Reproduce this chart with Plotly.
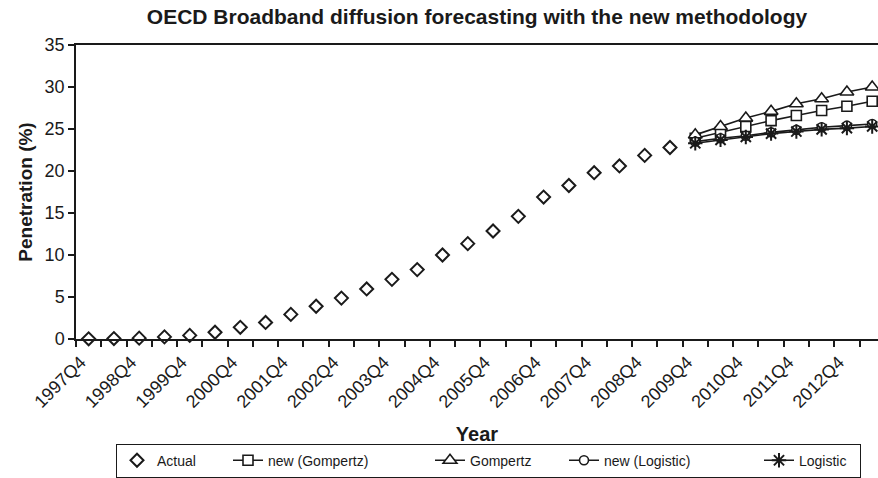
import plotly.graph_objects as go

periods = [
    "1997Q4", "1998Q2", "1998Q4", "1999Q2", "1999Q4", "2000Q2", "2000Q4", "2001Q2",
    "2001Q4", "2002Q2", "2002Q4", "2003Q2", "2003Q4", "2004Q2", "2004Q4", "2005Q2",
    "2005Q4", "2006Q2", "2006Q4", "2007Q2", "2007Q4", "2008Q2", "2008Q4", "2009Q2",
    "2009Q4", "2010Q2", "2010Q4", "2011Q2", "2011Q4", "2012Q2", "2012Q4", "2013Q2",
]
actual = [0.02, 0.05, 0.1, 0.25, 0.43, 0.8, 1.39, 1.97, 2.93, 3.9, 4.87, 5.96,
          7.1, 8.26, 10.0, 11.35, 12.86, 14.6, 16.9, 18.27, 19.8, 20.6, 21.86, 22.8]
forecast_periods = periods[24:]
new_gompertz = [23.9, 24.6, 25.3, 26.0, 26.6, 27.2, 27.7, 28.3]
gompertz = [24.3, 25.3, 26.3, 27.1, 28.0, 28.6, 29.4, 30.0]
new_logistic = [23.5, 23.9, 24.2, 24.6, 24.9, 25.2, 25.4, 25.6]
logistic = [23.3, 23.7, 24.05, 24.45, 24.7, 24.95, 25.1, 25.3]

pos = {p: i for i, p in enumerate(periods)}
x_actual = [pos[p] for p in periods[:len(actual)]]
x_fc = [pos[p] for p in forecast_periods]
tick_idx = [i for i, p in enumerate(periods) if p.endswith("Q4")]
tick_txt = [periods[i] for i in tick_idx]

FONT = "Liberation Sans, Arial, Helvetica, sans-serif"
INK = "#1a1a1a"

fig = go.Figure()
fig.add_trace(go.Scatter(
    x=x_actual, y=actual, mode="markers", name="Actual", legendwidth=66,
    marker=dict(symbol="diamond", size=10, color="white", line=dict(color=INK, width=2)),
    cliponaxis=False))


def fc_trace(vals, name, symbol, size, lw):
    return go.Scatter(
        x=x_fc, y=vals, mode="lines+markers", name=name, legendwidth=lw,
        line=dict(color=INK, width=1.6),
        marker=dict(symbol=symbol, size=size, color="white", line=dict(color=INK, width=1.6)),
        cliponaxis=False)


fig.add_trace(fc_trace(new_gompertz, "new (Gompertz)", "square", 10, 157))
fig.add_trace(fc_trace(gompertz, "Gompertz", "triangle-up", 12, 89))
fig.add_trace(fc_trace(new_logistic, "new (Logistic)", "circle", 9, 150))
fig.add_trace(go.Scatter(
    x=x_fc, y=logistic, mode="lines+markers", name="Logistic", legendwidth=56,
    line=dict(color=INK, width=1.6),
    marker=dict(symbol="asterisk-open", size=12, color=INK, line=dict(color=INK, width=2)),
    cliponaxis=False))

fig.update_layout(
    width=878, height=478,
    margin=dict(l=76, r=0, t=45, b=131),
    paper_bgcolor="white", plot_bgcolor="white",
    font=dict(family=FONT, color=INK),
    title=dict(text="<b>OECD Broadband diffusion forecasting with the new methodology</b>",
               x=0.5, xref="paper", xanchor="center",
               y=1 - 17 / 478, yref="container", yanchor="middle",
               font=dict(size=21, color=INK)),
    showlegend=True,
    legend=dict(orientation="h", x=(116 - 76) / 802, xanchor="left", y=-0.356, yanchor="top",
                bordercolor=INK, borderwidth=1, font=dict(size=14, color=INK),
                itemwidth=30, tracegroupgap=0),
    xaxis=dict(
        range=[-0.5, 31.23], showgrid=False, zeroline=False,
        showline=True, linecolor=INK, linewidth=1.5, mirror=True,
        tickmode="array", tickvals=tick_idx, ticktext=tick_txt, tickangle=-45,
        ticks="", tickfont=dict(size=18, color=INK), ticklabelshift=-8, ticklabelstandoff=4,
        minor=dict(tick0=-0.5, dtick=1, ticks="outside", ticklen=6, tickwidth=1.5, tickcolor=INK),
        title=dict(text="<b>Year</b>", font=dict(size=20, color=INK), standoff=16),
    ),
    yaxis=dict(
        range=[0, 35], dtick=5, showgrid=False, zeroline=False,
        showline=True, linecolor=INK, linewidth=1.5,
        ticks="outside", ticklen=6, tickwidth=1.5, tickcolor=INK,
        tickfont=dict(size=18, color=INK),
        title=dict(text="<b>Penetration (%)</b>", font=dict(size=19, color=INK), standoff=7),
    ),
)

fig.write_html("out.html")
